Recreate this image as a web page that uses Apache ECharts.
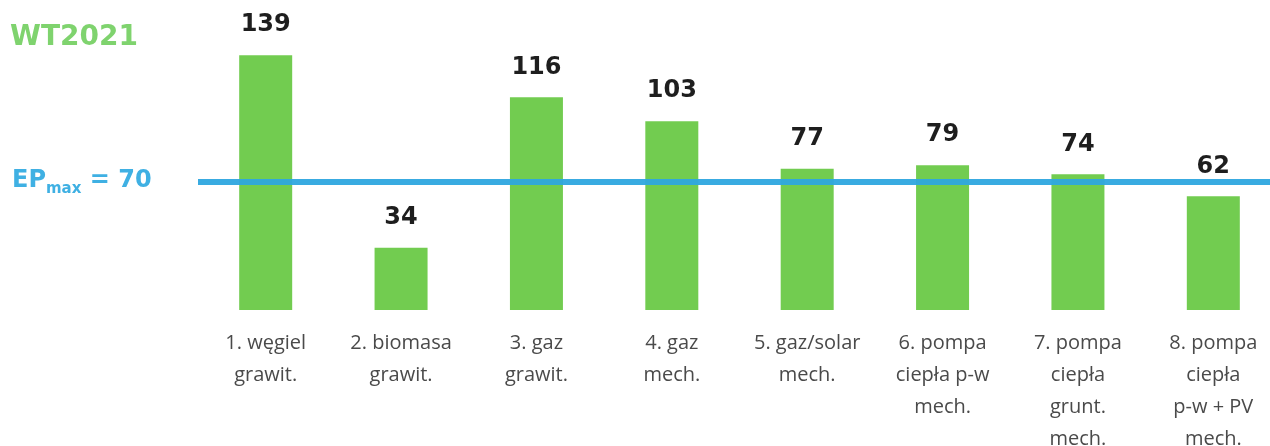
<!DOCTYPE html>
<html>
<head>
<meta charset="utf-8">
<script src="https://cdn.jsdelivr.net/npm/echarts@6/dist/echarts.min.js"></script>
<style>
    html, body { margin: 0; padding: 0; background: #fff; }
    #chart { width: 1270px; height: 446px; }
</style>
</head>
<body>
<div id="chart"></div>
<script>
// dane
const categories = [
    '1. węgiel\ngrawit.',
    '2. biomasa\ngrawit.',
    '3. gaz\ngrawit.',
    '4. gaz\nmech.',
    '5. gaz/solar\nmech.',
    '6. pompa\nciepła p-w\nmech.',
    '7. pompa\nciepła\ngrunt.\nmech.',
    '8. pompa\nciepła\np-w + PV\nmech.'
]
const values = [139, 34, 116, 103, 77, 79, 74, 62]
const epMax = 70
const yMax = 150

const option = {
    animation: false,
    grid: { left: 198, right: -11, top: 35, bottom: 136, outerBoundsMode: 'none', containLabel: false },
    graphic: [
        {
            type: 'text', left: 10, top: 24,
            style: { text: 'WT2021', fill: '#7fd36e', font: 'bold 28px "DejaVu Sans", sans-serif' }
        },
        {
            type: 'text', left: 12, top: 169,
            style: {
                text: '{a|EP}{s|max}{a| = ' + epMax + '}',
                rich: {
                    a: { fill: '#3fb0e3', font: 'bold 24px "DejaVu Sans", sans-serif', verticalAlign: 'bottom' },
                    s: { fill: '#3fb0e3', font: 'bold 15px "DejaVu Sans", sans-serif', verticalAlign: 'bottom', padding: [0, 0, -4, 0] }
                }
            }
        }
    ],
    xAxis: {
        type: 'category',
        data: categories,
        axisLine: { show: false },
        axisTick: { show: false },
        axisLabel: {
            margin: 17,
            interval: 0,
            color: '#4a4a4a',
            fontSize: 20,
            lineHeight: 32,
            fontFamily: '"Open Sans", sans-serif'
        }
    },
    yAxis: {
        type: 'value',
        min: 0,
        max: yMax,
        show: false,
        splitLine: { show: false }
    },
    series: [
        {
            type: 'bar',
            data: values,
            barWidth: 53,
            itemStyle: { color: '#72cc50' },
            label: {
                show: true,
                position: 'top',
                distance: 18,
                color: '#1e1e1e',
                fontSize: 24,
                fontWeight: 'bold',
                fontFamily: '"DejaVu Sans", sans-serif'
            },
            markLine: {
                silent: true,
                symbol: 'none',
                label: { show: false },
                lineStyle: { color: '#2ea6df', width: 6, type: 'solid', opacity: 0.95 },
                data: [{ yAxis: epMax }]
            }
        }
    ]
}

const chart = echarts.init(document.getElementById('chart'))
chart.setOption(option)
window.addEventListener('resize', function () {
    chart.resize()
})
</script>
</body>
</html>
